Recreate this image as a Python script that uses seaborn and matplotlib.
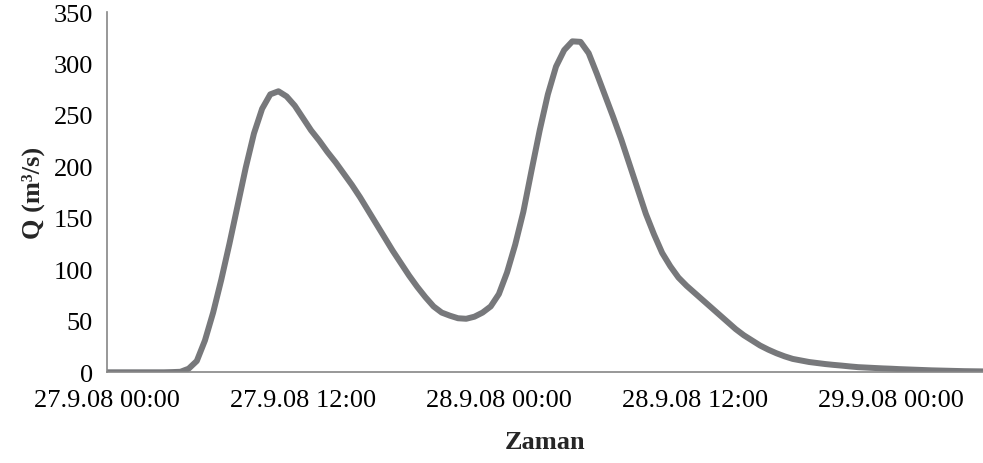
import matplotlib
matplotlib.use("Agg")
import matplotlib.pyplot as plt
import pandas as pd
import seaborn as sns

# half-hourly discharge readings (m3/s) from 27.9.08 00:00
start = "2008-09-27 00:00"
discharge = [
    0, 0, 0, 0, 0, 0, 0, 0, 0.2, 0.5,
    3.5, 11, 31, 58, 90, 125, 162, 199, 232, 256,
    270, 273, 268, 259, 247, 235, 225, 214, 204, 193,
    182, 170, 157, 144, 131, 118, 106, 94, 83, 73,
    64, 58, 55, 52.5, 52, 54, 58, 64, 76, 97,
    124, 156, 196, 235, 270, 297, 313, 321.5, 321, 310,
    290, 269, 248, 226, 202, 178, 154, 134, 116, 103,
    92, 84, 77, 70, 63, 56, 49, 42, 36, 31,
    26, 22, 18.5, 15.5, 13, 11.5, 10, 9, 8, 7.2,
    6.5, 5.7, 5, 4.6, 4.2, 3.8, 3.5, 3.1, 2.8, 2.5,
    2.2, 1.9, 1.7, 1.5, 1.3, 1.1, 1.0, 0.9, 0.8,
]
tick_times = ["2008-09-27 00:00", "2008-09-27 12:00", "2008-09-28 00:00",
              "2008-09-28 12:00", "2008-09-29 00:00"]
tick_labels = ["27.9.08 00:00", "27.9.08 12:00", "28.9.08 00:00",
               "28.9.08 12:00", "29.9.08 00:00"]
y_ticks = [0, 50, 100, 150, 200, 250, 300, 350]

df = pd.DataFrame({
    "Zaman": pd.date_range(start, periods=len(discharge), freq="30min"),
    "Q": discharge,
})

sns.set_theme(style="white")
plt.rcParams["font.family"] = ["Liberation Serif", "DejaVu Serif"]

fig = plt.figure(figsize=(9.83, 4.64), dpi=100)
ax = fig.add_axes([107 / 983, 90.7 / 464, 876 / 983, 360.3 / 464])

sns.lineplot(data=df, x="Zaman", y="Q", ax=ax, color="#77787b",
             linewidth=4.3, solid_joinstyle="round", solid_capstyle="round")

ax.set_xlim(pd.Timestamp(start), pd.Timestamp("2008-09-29 05:39"))
ax.set_ylim(0, 350)
ax.set_xticks(pd.to_datetime(tick_times))
ax.set_xticklabels(tick_labels)
ax.set_yticks(y_ticks)

for side in ["top", "right"]:
    ax.spines[side].set_visible(False)
for side in ["left", "bottom"]:
    ax.spines[side].set_color("#868686")
    ax.spines[side].set_linewidth(1.2)
ax.tick_params(axis="both", direction="out", length=6, width=1.2, color="#868686",
               labelsize=19, labelcolor="black")
ax.tick_params(axis="x", pad=6)
ax.tick_params(axis="y", pad=4)

ax.set_xlabel("Zaman", fontsize=19, fontweight="bold", labelpad=14)
ax.set_ylabel("Q (m³/s)", fontsize=19, fontweight="bold", labelpad=6)

fig.savefig("out.png", dpi=100)
